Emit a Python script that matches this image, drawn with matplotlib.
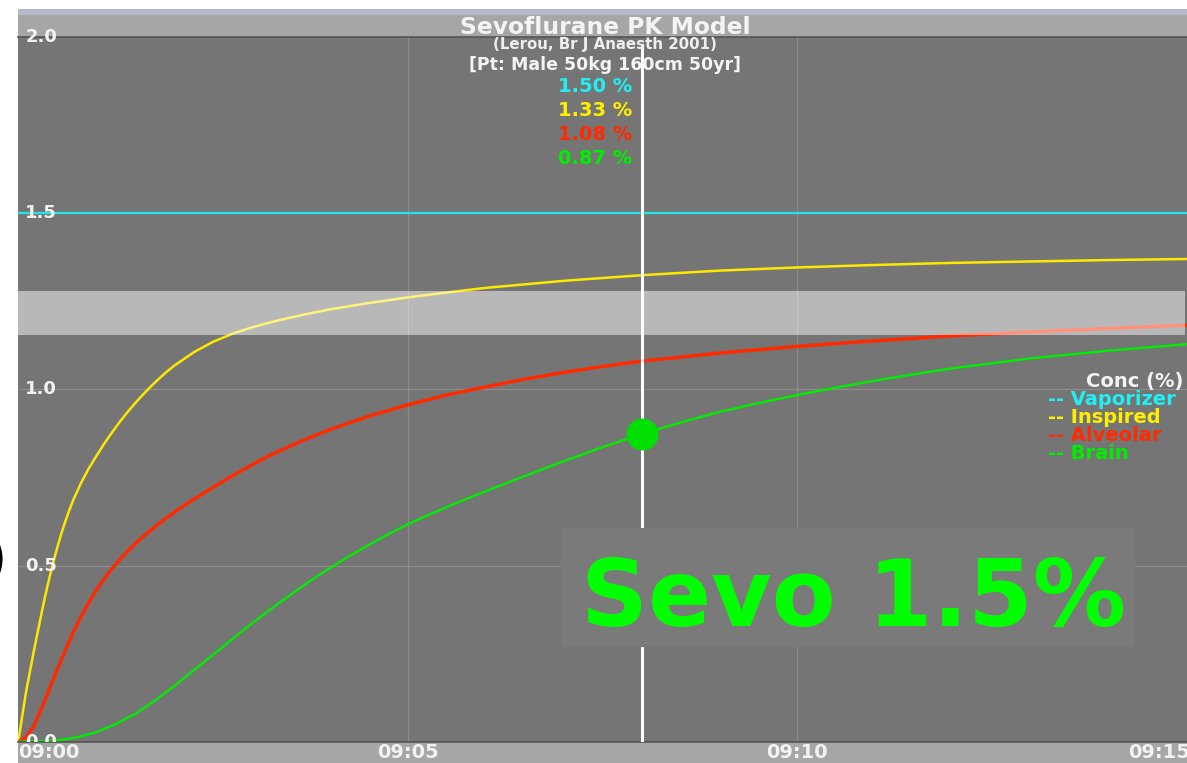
import matplotlib
matplotlib.use("Agg")
import matplotlib.pyplot as plt
from matplotlib.patches import Rectangle

plt.rcParams['font.family'] = ['DejaVu Sans']

# ---------------- data (minutes after 09:00, concentration %) ----------------
vapor_t = [0, 15]
vapor_v = [1.5, 1.5]

insp_t = [0, 0.05, 0.1, 0.15, 0.2, 0.25, 0.3, 0.35, 0.4, 0.45, 0.5, 0.55, 0.6, 0.65, 0.7,
          0.8, 0.9, 1.0, 1.1, 1.2, 1.3, 1.4, 1.5, 1.6, 1.7, 1.8, 1.9, 2.0, 2.25, 2.5, 2.75,
          3.0, 3.25, 3.5, 3.75, 4.0, 4.5, 5.0, 5.5, 6.0, 6.5, 7.0, 7.5, 8, 9, 10, 11, 12,
          13, 14, 15]
insp_v = [0, 0.072, 0.142, 0.2, 0.258, 0.312, 0.367, 0.418, 0.466, 0.51, 0.551, 0.589,
          0.623, 0.654, 0.683, 0.732, 0.774, 0.81, 0.845, 0.877, 0.907, 0.935, 0.961, 0.985,
          1.008, 1.029, 1.049, 1.067, 1.105, 1.135, 1.158, 1.176, 1.191, 1.204, 1.216,
          1.227, 1.245, 1.261, 1.275, 1.288, 1.298, 1.308, 1.316, 1.324, 1.337, 1.346,
          1.353, 1.359, 1.363, 1.367, 1.37]

alv_t = [0, 0.1, 0.2, 0.3, 0.4, 0.5, 0.6, 0.7, 0.8, 0.9, 1.0, 1.1, 1.2, 1.3, 1.4, 1.5, 1.6,
         1.8, 2.0, 2.25, 2.5, 2.75, 3.0, 3.25, 3.5, 3.75, 4.0, 4.5, 5.0, 5.5, 6.0, 6.5, 7.0,
         7.5, 8, 9, 10, 11, 12, 13, 14, 15]
alv_v = [0, 0.012, 0.045, 0.095, 0.15, 0.205, 0.258, 0.308, 0.353, 0.393, 0.43, 0.462,
         0.49, 0.516, 0.54, 0.562, 0.582, 0.618, 0.651, 0.688, 0.722, 0.755, 0.786, 0.815,
         0.84, 0.864, 0.886, 0.924, 0.956, 0.984, 1.007, 1.029, 1.048, 1.065, 1.08, 1.103,
         1.122, 1.138, 1.152, 1.163, 1.173, 1.182]

brain_t = [0, 0.25, 0.5, 0.75, 1.0, 1.25, 1.5, 1.75, 2.0, 2.25, 2.5, 2.75, 3.0, 3.25, 3.5,
           3.75, 4.0, 4.25, 4.5, 4.75, 5.0, 5.25, 5.5, 5.75, 6.0, 6.5, 7.0, 7.5, 8.0, 8.5,
           9.0, 9.5, 10.0, 10.5, 11.0, 11.5, 12, 13, 14, 15]
brain_v = [0, 0.001, 0.004, 0.012, 0.027, 0.05, 0.079, 0.116, 0.158, 0.202, 0.247, 0.292,
           0.336, 0.378, 0.418, 0.457, 0.493, 0.527, 0.559, 0.589, 0.617, 0.642, 0.666,
           0.689, 0.711, 0.754, 0.796, 0.836, 0.873, 0.906, 0.936, 0.961, 0.984, 1.005,
           1.025, 1.043, 1.06, 1.088, 1.11, 1.128]

cursor_t = 8.0
readout_values = [1.50, 1.33, 1.08, 0.87]
band_low, band_high = 1.155, 1.28

x_ticks = [0, 5, 10, 15]
x_labels = ["09:00", "09:05", "09:10", "09:15"]
y_ticks = [0.0, 0.5, 1.0, 1.5, 2.0]
y_labels = ["0.0", "0.5", "1.0", "1.5", "2.0"]

series_names = ["Vaporizer", "Inspired", "Alveolar", "Brain"]
series_colors = ["#1ee6ea", "#ffe800", "#ff2a00", "#00ee00"]
text_colors = ["#20f0f4", "#ffee00", "#ff2a00", "#00ee00"]

# ---------------- figure ----------------
W, H = 1187, 763
fig = plt.figure(figsize=(W / 100, H / 100), dpi=100, facecolor="white")

def fx(px):
    return px / W

def fy(py):
    return 1 - py / H

# header / footer bands (behind the axes)
fig.patches.append(Rectangle((fx(18.3), fy(37)), 1, 28 / H, transform=fig.transFigure,
                             facecolor="#a6a6a6", edgecolor="none", zorder=-5))
fig.patches.append(Rectangle((fx(18.3), fy(15)), 1, 6 / H, transform=fig.transFigure,
                             facecolor="#b4b9c9", edgecolor="none", zorder=-5))
fig.patches.append(Rectangle((fx(18.3), 0), 1, 21.3 / H, transform=fig.transFigure,
                             facecolor="#a6a6a6", edgecolor="none", zorder=-5))

ax = fig.add_axes([fx(18.3), fy(741.7), 1 - fx(18.3), (741.7 - 37) / H])
ax.set_facecolor("#757575")
ax.set_xlim(0, 15)
ax.set_ylim(0, 2.0)
for s in ["left", "right"]:
    ax.spines[s].set_visible(False)
for s in ["top", "bottom"]:
    ax.spines[s].set_color("#555555")
    ax.spines[s].set_linewidth(1.2)
ax.set_xticks([])
ax.set_yticks([])

# grid
for t in x_ticks[1:-1]:
    ax.axvline(t, color="#8c8c8c", lw=0.9, zorder=0.5)
for v in y_ticks[1:-1]:
    ax.axhline(v, color="#8c8c8c", lw=0.9, zorder=0.5)

# curves
kw = dict(solid_joinstyle="round", solid_capstyle="round", zorder=2)
ax.plot(vapor_t, vapor_v, color=series_colors[0], lw=1.6, **kw)
ax.plot(insp_t, insp_v, color=series_colors[1], lw=1.8, **kw)
ax.plot(alv_t, alv_v, color=series_colors[2], lw=2.5, **kw)
ax.plot(brain_t, brain_v, color=series_colors[3], lw=1.7, **kw)

# MAC band (semi transparent over curves)
ax.axhspan(band_low, band_high, xmin=0, xmax=0.9983, color="white", alpha=0.49,
           lw=0, zorder=3)

# cursor
ax.axvline(cursor_t, ymin=0, ymax=(741.7 - 45) / 704.7, color="white", lw=2.2, zorder=3.5)

# Sevo box
ax.add_patch(Rectangle((6.97, 0.269), 14.33 - 6.97, 0.606 - 0.269, facecolor="#7a7a7a",
                       edgecolor="none", zorder=4))
ax.text(10.72, 0.328, "Sevo 1.5%", color="#00ff00", fontsize=67, fontweight="bold",
        ha="center", va="baseline", zorder=6)

# cursor dot on brain curve
ax.plot([cursor_t], [brain_v[brain_t.index(cursor_t)]], "o", color="#00e000",
        markersize=22, zorder=5)

# y tick labels (inside the plot)
for v, lab in zip(y_ticks, y_labels):
    ax.text(0.006, v, lab, transform=ax.get_yaxis_transform(), ha="left", va="center",
            color="#f2f2f2", fontsize=13, fontweight="bold", zorder=7,
            clip_on=(v == 0.0))

# x tick labels
for t, lab in zip(x_ticks, x_labels):
    ha = "left" if t == x_ticks[0] else ("right" if t == x_ticks[-1] else "center")
    xpos = t if t != x_ticks[-1] else 15.04
    ax.text(xpos, -0.002, lab, transform=ax.get_xaxis_transform(),
            ha=ha, va="top", color="#f2f2f2", fontsize=14, fontweight="bold", clip_on=False)

# titles
fig.text(fx(605), fy(34.3), "Sevoflurane PK Model", ha="center", va="baseline",
         color="#f4f4f4", fontsize=16.8, fontweight="bold")
fig.text(fx(605), fy(49), "(Lerou, Br J Anaesth 2001)", ha="center", va="baseline",
         color="#eeeeee", fontsize=10.8, fontweight="bold")
fig.text(fx(605), fy(70), "[Pt: Male 50kg 160cm 50yr]", ha="center", va="baseline",
         color="#f4f4f4", fontsize=12.5, fontweight="bold")

# readout values
for i, (val, col) in enumerate(zip(readout_values, text_colors)):
    fig.text(fx(595), fy(92.5 + 24 * i), f"{val:.2f} %", ha="center", va="baseline",
             color=col, fontsize=14, fontweight="bold")

# legend
fig.text(fx(1183), fy(387), "Conc (%)", ha="right", va="baseline", color="#f4f4f4",
         fontsize=14, fontweight="bold")
for i, (name, col) in enumerate(zip(series_names, text_colors)):
    fig.text(fx(1048), fy(405 + 18 * i), "-- " + name, ha="left", va="baseline",
             color=col, fontsize=14, fontweight="bold")

# cropped parenthesis at the left edge
fig.text(fx(7), fy(562), ")", ha="right", va="center", color="black", fontsize=44)

fig.savefig("out.png", dpi=100, facecolor="white")
